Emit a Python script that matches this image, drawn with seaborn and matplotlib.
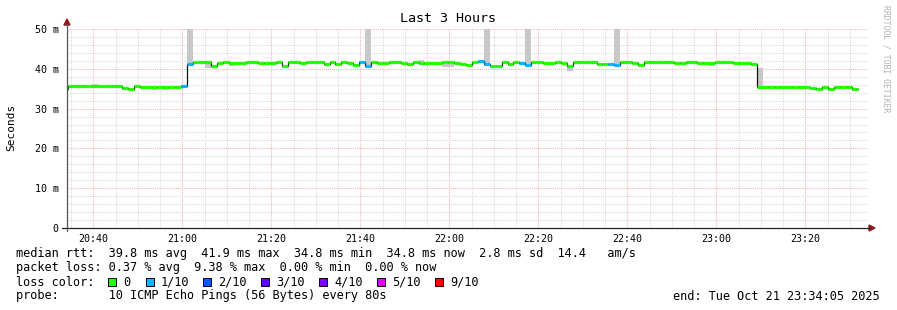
import numpy as np
import pandas as pd
import matplotlib
matplotlib.use("Agg")
import matplotlib.pyplot as plt
import matplotlib.dates as mdates
from matplotlib.lines import Line2D
from matplotlib.patches import Rectangle, Polygon
import seaborn as sns

# ---------------- data ----------------
median_ms = [
    35.0, 35.6, 35.6, 35.8, 35.8, 35.8, 35.8, 35.8, 35.6, 35.6,
    35.2, 34.8, 35.7, 35.5, 35.5, 35.5, 35.5, 35.5, 35.5, 35.5,
    35.8, 41.1, 41.6, 41.8, 41.6, 40.6, 41.4, 41.6, 41.5, 41.5,
    41.5, 41.8, 41.8, 41.5, 41.5, 41.5, 41.8, 40.8, 41.8, 41.8,
    41.5, 41.8, 41.8, 41.8, 41.2, 41.7, 41.1, 41.8, 41.5, 40.9,
    41.6, 40.8, 41.7, 41.5, 41.5, 41.7, 41.7, 41.5, 41.1, 41.7,
    41.5, 41.5, 41.5, 41.5, 41.8, 41.8, 41.5, 41.2, 40.9, 41.7,
    41.9, 41.3, 40.6, 40.8, 41.7, 41.2, 41.7, 41.4, 41.0, 41.7,
    41.7, 41.5, 41.5, 41.8, 41.4, 40.8, 41.7, 41.7, 41.7, 41.7,
    41.3, 41.3, 41.3, 41.0, 41.8, 41.8, 41.4, 40.9, 41.7, 41.7,
    41.7, 41.7, 41.7, 41.5, 41.5, 41.8, 41.8, 41.5, 41.5, 41.5,
    41.8, 41.8, 41.8, 41.5, 41.5, 41.5, 41.2, 35.5, 35.5, 35.5,
    35.5, 35.5, 35.5, 35.5, 35.5, 35.5, 35.3, 34.8, 35.4, 34.8,
    35.5, 35.4, 35.4, 34.8,
]
# steps that lost 1 of 10 pings
loss_1_steps = [20, 21, 50, 51, 70, 71, 77, 78, 92, 93]

# visible "smoke" (spread of the pings) per step
smoke_steps = [5, 10, 15, 17, 18, 21, 24, 27, 28, 46, 51, 53, 54, 60, 63, 64, 65,
               71, 78, 85, 93, 109, 117, 120, 121, 122, 131]
smoke_lo = [35.6, 34.6, 34.7, 34.6, 34.9, 40.9, 40.1, 41.4, 40.6, 40.8, 40.6, 41.3, 41.3,
            41.0, 40.9, 40.5, 40.5, 40.9, 40.7, 39.5, 40.8, 40.8, 35.5, 35.4, 35.4,
            34.9, 35.3]
smoke_hi = [36.3, 35.2, 35.5, 35.5, 35.5, 55.0, 41.6, 42.0, 41.5, 41.1, 55.0, 41.5, 41.5,
            42.2, 41.5, 41.8, 41.8, 55.0, 55.0, 40.8, 55.0, 41.5, 40.3, 35.8, 35.8,
            35.5, 35.8]

first_step = "2025-10-21 20:33:05"
step_seconds = 80
x_start, x_end = "2025-10-21 20:34:05", "2025-10-21 23:34:05"

y_ticks = [0, 10, 20, 30, 40, 50]
y_tick_labels = ["0", "10 m", "20 m", "30 m", "40 m", "50 m"]
loss_labels = ["0", "1/10", "2/10", "3/10", "4/10", "5/10", "9/10"]
loss_colors = ["#26ff00", "#00b8ff", "#0059ff", "#5e00ff", "#7e00ff", "#dd00ff", "#ff0000"]

legend_lines = [
    "median rtt:  39.8 ms avg  41.9 ms max  34.8 ms min  34.8 ms now  2.8 ms sd  14.4   am/s",
    "packet loss: 0.37 % avg  9.38 % max  0.00 % min  0.00 % now",
    "loss color:",
    "probe:       10 ICMP Echo Pings (56 Bytes) every 80s",
]
end_text = "end: Tue Oct 21 23:34:05 2025"

# ---------------- figure ----------------
sns.set_theme(style="white")
plt.rcParams["font.family"] = ["DejaVu Sans Mono", "DejaVu Sans"]
MONO = "DejaVu Sans Mono"

W, H = 897, 310
fig = plt.figure(figsize=(W / 100, H / 100), dpi=100)
fig.patch.set_facecolor("white")


def fx(x):
    return x / W


def fy(y):
    return 1 - y / H


L, R, T, B = 67, 868, 29, 228
ax = fig.add_axes([fx(L), fy(B), (R - L) / W, (B - T) / H])
ax.set_facecolor("white")

n = len(median_ms)
t0 = pd.Timestamp(first_step)
times = [t0 + pd.Timedelta(seconds=step_seconds * i) for i in range(n + 1)]
tnum = mdates.date2num(times)
step_w = step_seconds / 86400.0

xs, xe = mdates.date2num(pd.Timestamp(x_start)), mdates.date2num(pd.Timestamp(x_end))

# grid
dotted = (0, (1, 1))
minor_t = pd.date_range("2025-10-21 20:35", "2025-10-21 23:30", freq="5min")
for t in minor_t:
    v = mdates.date2num(t)
    col = "#f5b4b4" if t.minute % 20 == 0 else "#dadada"
    ax.axvline(v, color=col, lw=0.75, ls=dotted, zorder=1)
for yv in range(2, 51, 2):
    col = "#f5b4b4" if yv % 10 == 0 else "#dadada"
    ax.axhline(yv, color=col, lw=0.75, ls=dotted, zorder=1)

# smoke
idx = np.array(smoke_steps)
lo = np.array(smoke_lo)
hi = np.array(smoke_hi)
ax.bar(tnum[idx], hi - lo, bottom=lo, width=step_w, align="edge",
       color="#c8c8c8", linewidth=0, zorder=2)

# black median step line (seaborn)
df = pd.DataFrame({"time": times, "ms": median_ms + [median_ms[-1]]})
sns.lineplot(data=df, x="time", y="ms", drawstyle="steps-post", color="#101010",
             lw=0.9, ax=ax, zorder=3)

# coloured median segments by loss
loss_cls = np.zeros(n, dtype=int)
loss_cls[loss_1_steps] = 1
for i in range(n):
    ax.hlines(median_ms[i], tnum[i], tnum[i] + step_w, colors=loss_colors[loss_cls[i]],
              lw=2.3, zorder=4, capstyle="butt")

ax.set_xlim(xs, xe)
ax.set_ylim(0, 50)

# ticks
ax.xaxis.set_major_locator(mdates.MinuteLocator(byminute=[0, 20, 40]))
ax.xaxis.set_major_formatter(mdates.DateFormatter("%H:%M"))
ax.set_yticks(y_ticks)
ax.set_yticklabels(y_tick_labels)
ax.tick_params(axis="both", length=0, labelsize=7.2, colors="#000000")
ax.tick_params(axis="x", pad=4)
ax.tick_params(axis="y", pad=6)
for lab in ax.get_xticklabels() + ax.get_yticklabels():
    lab.set_family(MONO)
ax.set_xlabel("")
ax.set_ylabel("")
for s in ax.spines.values():
    s.set_visible(False)

# axes lines + arrows
fig.add_artist(Line2D([fx(62), fx(870)], [fy(228), fy(228)], color="#222222", lw=0.9))
fig.add_artist(Line2D([fx(67), fx(67)], [fy(231), fy(24)], color="#555555", lw=0.9))
fig.add_artist(Polygon([[fx(64), fy(25)], [fx(70), fy(25)], [fx(67), fy(19)]],
                       closed=True, color="#8b1a1a"))
fig.add_artist(Polygon([[fx(869), fy(225)], [fx(869), fy(231)], [fx(875), fy(228)]],
                       closed=True, color="#8b1a1a"))

# texts
fig.text(fx(448), fy(19), "Last 3 Hours", ha="center", va="center", fontsize=9.6,
         family=MONO, color="#000000")
fig.text(fx(11), fy(127), "Seconds", ha="center", va="center", rotation=90,
         fontsize=8, family=MONO, color="#000000")
fig.text(fx(886), fy(5), "RRDTOOL / TOBI OETIKER", ha="center", va="top", rotation=-90,
         fontsize=5.9, family=MONO, color="#b4b4b4")

ys = [254, 268, 282, 296]
for txt, yy in zip(legend_lines, ys):
    fig.text(fx(16), fy(yy), txt, ha="left", va="center", fontsize=8.55, family=MONO,
             color="#000000")
fig.text(fx(880), fy(296), end_text, ha="right", va="center", fontsize=8.55,
         family=MONO, color="#000000")

box_x = [108, 146, 203, 261, 319, 377, 435]
for bx, lab, col in zip(box_x, loss_labels, loss_colors):
    fig.add_artist(Rectangle((fx(bx), fy(286)), 8 / W, 8 / H, facecolor=col,
                             edgecolor="#000000", lw=0.7))
    fig.text(fx(bx + 15), fy(282), lab, ha="left", va="center", fontsize=8.55,
             family=MONO, color="#000000")

fig.savefig("out.png", dpi=100, facecolor="white")
